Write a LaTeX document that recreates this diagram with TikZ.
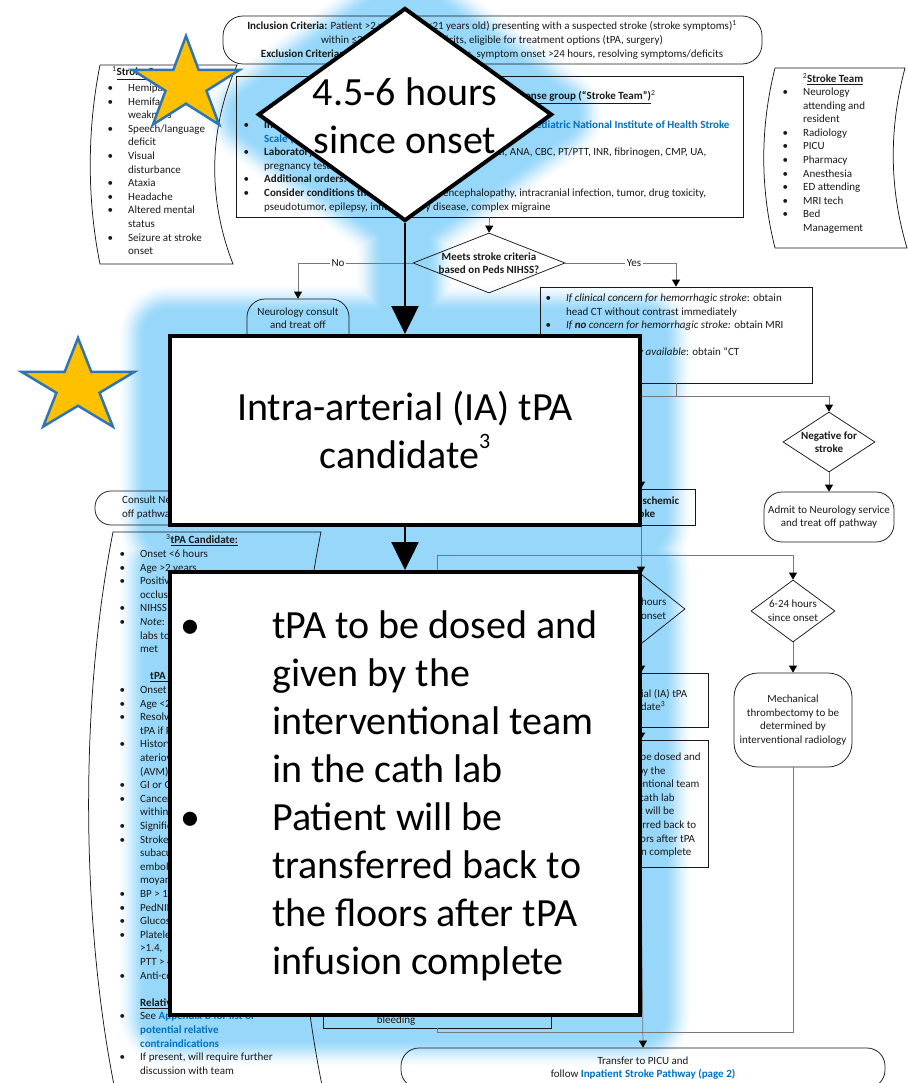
\documentclass[tikz,border=0pt]{standalone}
\usepackage{fontspec}
\setmainfont{Carlito}
\usetikzlibrary{shapes.geometric,arrows.meta}
\definecolor{glow}{RGB}{150,215,250}
\definecolor{link}{RGB}{0,112,192}
\definecolor{starfill}{RGB}{255,192,0}
\definecolor{starline}{RGB}{46,117,182}
\definecolor{ink}{RGB}{25,25,25}
\definecolor{wire}{RGB}{120,120,120}
\newcommand\sm{\fontsize{11}{13.6}\selectfont}
\newcommand\bigtxt{\fontsize{40}{48}\selectfont}
\newcommand\bul{\llap{\textbullet\hspace{15pt}}}
\newcommand\bigbul{\llap{\textbullet\hspace{72pt}}}
\newcommand\bigsup[1]{\raisebox{0.52em}{\fontsize{22}{22}\selectfont #1}}
\pgfdeclarelayer{glowlayer}
\pgfdeclarelayer{flowlayer}
\pgfsetlayers{glowlayer,flowlayer,main}
\tikzset{
  box/.style={draw=ink, line width=0.75pt, inner sep=0pt, align=center, font=\sm, text=ink},
  term/.style={box, rounded corners=18pt},
  txt/.style={inner sep=0pt, font=\sm, text=ink, align=center},
  wireline/.style={draw=wire, line width=0.75pt},
  arr/.style={wireline, -{Triangle[length=7pt,width=8pt,color=black]}},
  lbl/.style={txt, fill=white, inner sep=1.5pt},
  note/.style={draw=ink, line width=0.75pt},
  bigshape/.style={draw=black, line width=4pt, fill=white, inner sep=0pt},
  bigarrow/.style={draw=black, line width=2.5pt, -{Triangle[length=28pt,width=27pt]}},
  starshape/.style={star, star points=5, star point ratio=2.618, minimum size=98pt,
    inner sep=0pt, fill=starfill, draw=starline, line width=2.5pt, transform shape},
}
\begin{document}
\begin{tikzpicture}[x=1pt,y=-1pt]
\useasboundingbox (0,0) rectangle (907,1083);

% ---------- highlighted path ----------
\node[bigshape, diamond, minimum width=294pt, minimum height=213pt] (dia) at (405,114.5) {};
\node[inner sep=0pt, font=\bigtxt, align=center] (diatxt) at (405,116) {4.5-6 hours\\since onset};
\node[bigshape, minimum width=470pt, minimum height=189pt, font=\bigtxt, align=center] (ia) at (405,430.5)
  {Intra-arterial (IA) tPA\\candidate\bigsup{3}};
\node[bigshape, minimum width=470pt, minimum height=443pt] (dose) at (405,793.5) {};
\node[inner sep=0pt, anchor=north west, font=\bigtxt, align=left] (dosetxt) at (272,604.4)
  {\strut\bigbul tPA to be dosed and\\given by the\\interventional team\\in the cath lab\\
   \bigbul Patient will be\\transferred back to\\the floors after tPA\\infusion complete};
\draw[bigarrow] (dia.south) -- (ia.north);
\draw[bigarrow] (ia.south) -- (dose.north);

% soft glow behind the highlighted path
\begin{pgfonlayer}{glowlayer}
\foreach \ww/\pp in {96/5, 92/10, 88/17, 84/25, 80/34, 76/44, 72/54, 68/64, 64/74, 60/83, 56/90, 52/96, 48/100}{
  \path[draw=glow!\pp!white, fill=glow!\pp!white, line width=\ww pt, line join=round, line cap=round]
    (dia.north) -- (dia.east) -- (dia.south) -- (dia.west) -- cycle
    (ia.north west) rectangle (ia.south east)
    (dose.north west) rectangle (dose.south east)
    (dia.south) -- (dose.north);
}
\end{pgfonlayer}

% ---------- full pathway ----------
\begin{pgfonlayer}{flowlayer}
% criteria
\node[box, rounded corners=20pt, minimum width=539pt, minimum height=48pt] (incl) at (492.5,40) {};
\node[txt] (incltxt) at (492,40) {\textbf{Inclusion Criteria:} Patient >2 years (and <21 years old) presenting with a suspected stroke (stroke symptoms)\textsuperscript{1}\\
  within ≤24 hours of new deficits, eligible for treatment options (tPA, surgery)\\
  \textbf{Exclusion Criteria:} Known hemorrhage or mass, symptom onset >24 hours, resolving symptoms/deficits};

% stroke symptoms note
\draw[note] (100,65) -- (237,65) .. controls (208,130) and (208,200) .. (233,264) -- (100,264) .. controls (87,200) and (87,130) .. (100,65);
\node[txt, anchor=west] (symhead) at (112,73) {\textsuperscript{1}\textbf{\underline{Stroke Symptoms}}};
\node[txt, anchor=north west, align=left] (symlist) at (128,81.7)
  {\strut\bul Hemiparesis\\\bul Hemifacial\\weakness\\\bul Speech/language\\deficit\\\bul Visual\\disturbance\\
   \bul Ataxia\\\bul Headache\\\bul Altered mental\\status\\\bul Seizure at stroke\\onset};

% stroke team note
\draw[note] (775,68) -- (905,68) .. controls (889,128) and (889,188) .. (907,248) -- (775,248) .. controls (760,188) and (760,128) .. (775,68);
\node[txt] (teamhead) at (833,79) {\textsuperscript{2}\textbf{\underline{Stroke Team}}};
\node[txt, anchor=north west, align=left] (teamlist) at (803,85.7)
  {\strut\bul Neurology\\attending and\\resident\\\bul Radiology\\\bul PICU\\\bul Pharmacy\\\bul Anesthesia\\
   \bul ED attending\\\bul MRI tech\\\bul Bed\\Management};

% activation box
\node[box, minimum width=507pt, minimum height=141pt] (act) at (489.5,146.5) {};
\node[txt] (acthead) at (501,97) {\textbf{\underline{Activate the pediatric acute stroke response group (“Stroke Team”)}}\textsuperscript{2}};
\node[txt, anchor=north west, align=left] (actlist) at (264,118.7)
  {\strut\bul\textbf{Initial evaluation:} Neurology to perform an exam using the \textcolor{link}{\textbf{Pediatric National Institute of Health Stroke}}\\
   \textcolor{link}{\textbf{Scale (PedNIHSS)}}\\
   \bul\textbf{Laboratory studies:} POC glucose, ESR, CRP, lipid panel, ANA, CBC, PT/PTT, INR, fibrinogen, CMP, UA,\\
   pregnancy test (if applicable)\\
   \bul\textbf{Additional orders:} keep patient strictly NPO\\
   \bul\textbf{Consider conditions that mimic stroke:} encephalopathy, intracranial infection, tumor, drug toxicity,\\
   pseudotumor, epilepsy, inflammatory disease, complex migraine};

% first decision
\node[box, diamond, minimum width=152pt, minimum height=60pt] (meets) at (489,263) {};
\node[txt, font=\sm\bfseries] (meetstxt) at (meets) {Meets stroke criteria\\based on Peds NIHSS?};
\draw[arr] (act.south) -- (meets.north);

\node[term, minimum width=102pt, minimum height=54pt] (neuro) at (298,326) {Neurology consult\\and treat off\\pathway};
\draw[arr] (meets.west) -| (neuro.north);
\node[lbl] (nolbl) at (338,263) {No};

\node[box, minimum width=272pt, minimum height=96pt] (clin) at (676,335) {};
\node[txt, anchor=north west, align=left] (clintxt) at (566,291.7)
  {\strut\bul\textit{If clinical concern for hemorrhagic stroke}: obtain\\head CT without contrast immediately\\
   \bul\textit{If \textbf{no} concern for hemorrhagic stroke:} obtain MRI\\without contrast\\
   \bul\textit{If MRI not readily available}: obtain “CT\\stroke protocol”};
\draw[arr] (meets.east) -| (clin.north);
\node[lbl] (yeslbl) at (634,263) {Yes};

% imaging result
\coordinate (jA) at (676,396);
\draw[wireline] (clin.south) -- (jA);
\node[box, diamond, minimum width=92pt, minimum height=60pt] (neg) at (829,442) {};
\node[txt, font=\sm\bfseries] (negtxt) at (neg) {Negative for\\stroke};
\draw[arr] (jA) -| (neg.north);
\node[term, minimum width=130pt, minimum height=50pt] (admit) at (829,517) {Admit to Neurology service\\and treat off pathway};
\draw[arr] (neg.south) -- (admit.north);
\node[box, minimum width=108pt, minimum height=36pt, font=\sm\bfseries] (isch) at (641,507) {Arterial ischemic\\stroke};
\draw[arr] (jA) -| (isch.north);

\node[box, rounded corners=16pt, minimum width=210pt, minimum height=34pt] (consult) at (200,508) {};
\node[txt, anchor=north west, align=left] (consulttxt) at (122,493.7) {\strut Consult Neurology and treat\\off pathway};

% time since onset
\coordinate (jB) at (641,555);
\draw[wireline] (isch.south) -- (jB);
\coordinate (ivpath) at (437,600);
\draw[wireline] (jB) -| (ivpath);
\node[box, diamond, minimum width=88pt, minimum height=70pt] (d46) at (641,609) {};
\node[txt] (d46txt) at (d46) {4.5-6 hours\\since onset};
\draw[arr] (jB) -- (d46.north);
\node[box, diamond, minimum width=84pt, minimum height=62pt] (d624) at (793,611) {};
\node[txt] (d624txt) at (d624) {6-24 hours\\since onset};
\draw[arr] (jB) -| (d624.north);

\node[box, minimum width=134pt, minimum height=54pt] (iasm) at (641,700) {Intra-arterial (IA) tPA\\candidate\textsuperscript{3}};
\draw[arr] (d46.south) -- (iasm.north);
\node[box, minimum width=134pt, minimum height=127pt] (dosesm) at (641,803.5) {};
\node[txt, anchor=north west, align=left] (dosesmtxt) at (611,750.7)
  {\strut\bul tPA to be dosed and\\given by the\\interventional team\\in the cath lab\\
   \bul Patient will be\\transferred back to\\the floors after tPA\\infusion complete};
\draw[arr] (iasm.south) -- (dosesm.north);

\node[term, rounded corners=24pt, minimum width=118pt, minimum height=94pt] (mech) at (793,720)
  {Mechanical\\thrombectomy to be\\determined by\\interventional radiology};
\draw[arr] (d624.south) -- (mech.north);

\node[box, minimum width=228pt, minimum height=80pt] (bleed) at (437,988) {};
\node[txt] (bleedtxt) at (396,1021) {bleeding};
\coordinate (jC) at (437,1032);
\draw[wireline] (mech.south) |- (jC) -- (bleed.south);

\node[term, minimum width=484pt, minimum height=40pt] (xfer) at (643,1068)
  {Transfer to PICU and\\follow \textcolor{link}{\textbf{Inpatient Stroke Pathway (page 2)}}};
\draw[arr] (dosesm.south) -- (xfer.north);

% tPA candidate note
\draw[note] (116,1095) .. controls (80,920) and (80,700) .. (113,532) -- (321,532) .. controls (287,700) and (287,920) .. (324,1095);
\node[txt] (tpahead) at (202,540) {\textsuperscript{3}\textbf{\underline{tPA Candidate:}}};
\node[txt, anchor=north west, align=left] (tpalist) at (140,547.7)
  {\strut\bul Onset <6 hours\\\bul Age >2 years\\\bul Positive for acute arterial\\occlusion on imaging\\
   \bul NIHSS ≥ 4 (PedNIHSS)\\\bul\textit{Note}: do not delay for\\labs to return if criteria\\met\\[13.6pt]
   \hspace*{10pt}\textbf{\underline{tPA Contraindications:}}\\
   \bul Onset >6 hours\\\bul Age <2 years\\\bul Resolving symptoms (consider\\tPA if PedNIHSS ≥ 4)\\
   \bul History of hemorrhage or\\ateriovenous malformation\\(AVM)\\
   \bul GI or GU bleeding within 3 weeks\\\bul Cancer or major surgery\\within 3 weeks\\
   \bul Significant head trauma\\\bul Stroke etiology of\\subacute bacterial endocarditis,\\emboli, sickle cell disease,\\moyamoya\\
   \bul BP > 15\% above 95th percentile\\\bul PedNIHSS < 4 or > 24\\\bul Glucose < 50 or > 400\\
   \bul Platelets < 100,000, INR\\>1.4,\\PTT > 40 seconds\\\bul Anti-coagulation\\[13.6pt]
   \textbf{\underline{Relative Contraindications}}\\
   \bul See \textcolor{link}{\textbf{Appendix B for list of}}\\\textcolor{link}{\textbf{potential relative}}\\
   \textcolor{link}{\textbf{contraindications}}\\\bul If present, will require further\\discussion with team};
\end{pgfonlayer}

% ---------- stars ----------
\begin{scope}[shift={(186,85)}]
  \node[starshape, xscale=1.15] (star1) at (0,0) {};
\end{scope}
\begin{scope}[shift={(78,387)}]
  \node[starshape, xscale=1.21] (star2) at (0,0) {};
\end{scope}
\end{tikzpicture}
\end{document}
